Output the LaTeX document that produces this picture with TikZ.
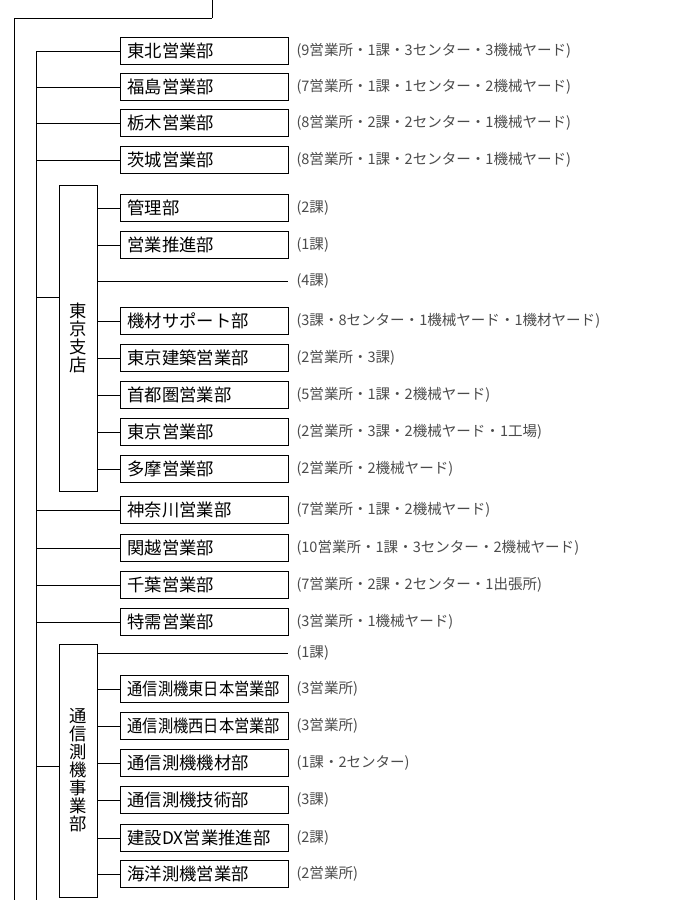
\documentclass[tikz,border=0pt]{standalone}
\usepackage{fontspec}
\setmainfont{Noto Sans CJK JP}
\definecolor{notegray}{RGB}{75,75,75}
\begin{document}
\begin{tikzpicture}[x=0.75pt,y=-0.75pt,line width=0.75pt]
        \useasboundingbox (0,0) rectangle (695,900);

        \coordinate (t0) at (212,0);
        \coordinate (t1) at (212,18);
        \coordinate (t2) at (14,18);
        \coordinate (t3) at (14,900);
        \coordinate (s0) at (36,900);
        \coordinate (tkin) at (59,297);
        \coordinate (tmin) at (59,766);
        \coordinate (e4) at (288,281);
        \coordinate (e1) at (288,653);

        \begin{scope}[every node/.style={draw,anchor=west,minimum height=20.25pt,
            text width=115.5pt,inner xsep=5.25pt,inner ysep=0pt,align=left,
            font=\fontsize{13}{13}\selectfont}]
          \node (1)  at (120,51)  {東北営業部};
          \node (2)  at (120,87)  {福島営業部};
          \node (3)  at (120,123) {栃木営業部};
          \node (4)  at (120,160) {茨城営業部};
          \node (5)  at (120,208) {管理部};
          \node (6)  at (120,245) {営業推進部};
          \node (7)  at (120,321) {機材サポート部};
          \node (8)  at (120,358) {東京建築営業部};
          \node (9)  at (120,395) {首都圏営業部};
          \node (10) at (120,432) {東京営業部};
          \node (11) at (120,469) {多摩営業部};
          \node (12) at (120,510) {神奈川営業部};
          \node (13) at (120,548) {関越営業部};
          \node (14) at (120,585) {千葉営業部};
          \node (15) at (120,622) {特需営業部};
          \node (16) at (120,689) {\scalebox{0.88}[1]{通信測機東日本営業部}};
          \node (17) at (120,726) {\scalebox{0.88}[1]{通信測機西日本営業部}};
          \node (18) at (120,763) {通信測機機材部};
          \node (19) at (120,800) {通信測機技術部};
          \node (20) at (120,838) {建設DX営業推進部};
          \node (21) at (120,874) {海洋測機営業部};
        \end{scope}

        \begin{scope}[every node/.style={draw,minimum width=28.5pt,inner sep=0pt,
            align=center,font=\fontsize{13}{13.5}\selectfont}]
          \node[minimum height=229.5pt]  (tk) at (78,338)   {東\\京\\支\\店};
          \node[minimum height=189.75pt] (tm) at (78,770.5) {通\\信\\測\\機\\事\\業\\部};
        \end{scope}

        \begin{scope}[every node/.style={anchor=west,inner xsep=0pt,text=notegray,
            font=\fontsize{10.9}{12}\selectfont}]
          \node (n1)  at (296,51)  {(9営業所・1課・3センター・3機械ヤード)};
          \node (n2)  at (296,87)  {(7営業所・1課・1センター・2機械ヤード)};
          \node (n3)  at (296,123) {(8営業所・2課・2センター・1機械ヤード)};
          \node (n4)  at (296,160) {(8営業所・1課・2センター・1機械ヤード)};
          \node (n5)  at (296,208) {(2課)};
          \node (n6)  at (296,245) {(1課)};
          \node (nk4) at (296,281) {(4課)};
          \node (n7)  at (296,321) {(3課・8センター・1機械ヤード・1機材ヤード)};
          \node (n8)  at (296,358) {(2営業所・3課)};
          \node (n9)  at (296,395) {(5営業所・1課・2機械ヤード)};
          \node (n10) at (296,432) {(2営業所・3課・2機械ヤード・1工場)};
          \node (n11) at (296,469) {(2営業所・2機械ヤード)};
          \node (n12) at (296,510) {(7営業所・1課・2機械ヤード)};
          \node (n13) at (296,548) {(10営業所・1課・3センター・2機械ヤード)};
          \node (n14) at (296,585) {(7営業所・2課・2センター・1出張所)};
          \node (n15) at (296,622) {(3営業所・1機械ヤード)};
          \node (nk1) at (296,653) {(1課)};
          \node (n16) at (296,689) {(3営業所)};
          \node (n17) at (296,726) {(3営業所)};
          \node (n18) at (296,763) {(1課・2センター)};
          \node (n19) at (296,800) {(3課)};
          \node (n20) at (296,838) {(2課)};
          \node (n21) at (296,874) {(2営業所)};
        \end{scope}

        \begin{scope}[every edge/.style={draw}]
          \path (t0) edge (t1);
          \path (t1) edge (t2);
          \path (t2) edge (t3);
          \path (s0) edge (s0 |- 1.west);
          \path (s0 |- 1.west)  edge (1.west);
          \path (s0 |- 2.west)  edge (2.west);
          \path (s0 |- 3.west)  edge (3.west);
          \path (s0 |- 4.west)  edge (4.west);
          \path (s0 |- tkin)    edge (tkin);
          \path (s0 |- 12.west) edge (12.west);
          \path (s0 |- 13.west) edge (13.west);
          \path (s0 |- 14.west) edge (14.west);
          \path (s0 |- 15.west) edge (15.west);
          \path (s0 |- tmin)    edge (tmin);
          \path (tk.east |- 5.west)  edge (5.west);
          \path (tk.east |- 6.west)  edge (6.west);
          \path (tk.east |- e4)      edge (e4);
          \path (tk.east |- 7.west)  edge (7.west);
          \path (tk.east |- 8.west)  edge (8.west);
          \path (tk.east |- 9.west)  edge (9.west);
          \path (tk.east |- 10.west) edge (10.west);
          \path (tk.east |- 11.west) edge (11.west);
          \path (tm.east |- e1)      edge (e1);
          \path (tm.east |- 16.west) edge (16.west);
          \path (tm.east |- 17.west) edge (17.west);
          \path (tm.east |- 18.west) edge (18.west);
          \path (tm.east |- 19.west) edge (19.west);
          \path (tm.east |- 20.west) edge (20.west);
          \path (tm.east |- 21.west) edge (21.west);
        \end{scope}

      \end{tikzpicture}
\end{document}
